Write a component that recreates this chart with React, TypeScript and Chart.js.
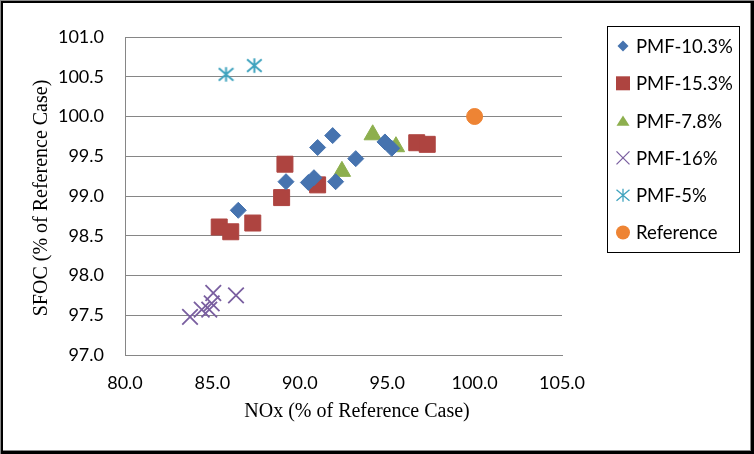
import React, { useEffect, useRef } from 'react';
import { Chart, registerables } from 'chart.js';

Chart.register(...registerables);

// ---- data ----
const seriesNames = ['PMF-10.3%', 'PMF-15.3%', 'PMF-7.8%', 'PMF-16%', 'PMF-5%', 'Reference'];

const pmf103X = [86.48, 89.21, 90.49, 90.81, 91.02, 91.88, 92.05, 93.2, 94.87, 95.26];
const pmf103Y = [98.82, 99.18, 99.17, 99.23, 99.61, 99.76, 99.18, 99.47, 99.68, 99.6];

const pmf153X = [85.39, 86.05, 87.31, 88.96, 89.15, 91.02, 96.69, 97.29];
const pmf153Y = [98.61, 98.55, 98.66, 98.98, 99.4, 99.14, 99.67, 99.65];

const pmf78X = [92.41, 94.17, 95.5];
const pmf78Y = [99.31, 99.77, 99.62];

const pmf16X = [83.72, 84.39, 84.82, 84.96, 85.05, 86.35];
const pmf16Y = [97.48, 97.57, 97.57, 97.65, 97.78, 97.75];

const pmf5X = [85.78, 87.4];
const pmf5Y = [100.53, 100.64];

const refX = [100];
const refY = [100];

const xMin = 80, xMax = 105, xStep = 5;
const yMin = 97, yMax = 101, yStep = 0.5;

const xTitle = 'NOx (% of Reference Case)';
const yTitle = 'SFOC (% of Reference Case)';

// ---- styles ----
const colors = ['#4673AF', '#AE4440', '#8DAF4E', '#7A5FA0', '#3FA3BE', '#EE8434'];
const kinds = ['diamond', 'square', 'triangle', 'x', 'star', 'circle'];

const toPts = (xs: number[], ys: number[]) => xs.map((x, i) => ({ x, y: ys[i] }));

function makeStar(color: string, size: number, lw: number) {
  const c = document.createElement('canvas');
  c.width = size;
  c.height = size;
  const g = c.getContext('2d')!;
  const h = size / 2;
  const a = h - 1.2;
  g.strokeStyle = color;
  g.lineWidth = lw;
  g.lineCap = 'butt';
  g.beginPath();
  g.moveTo(h - a, h - a * 0.85);
  g.lineTo(h + a, h + a * 0.85);
  g.moveTo(h + a, h - a * 0.85);
  g.lineTo(h - a, h + a * 0.85);
  g.moveTo(h, h - a);
  g.lineTo(h, h + a);
  g.stroke();
  return c;
}

function drawMarker(ctx: CanvasRenderingContext2D, kind: string, x: number, y: number, s: number, color: string) {
  ctx.save();
  ctx.fillStyle = color;
  ctx.strokeStyle = color;
  const h = s / 2;
  ctx.beginPath();
  if (kind === 'diamond') {
    ctx.moveTo(x, y - h); ctx.lineTo(x + h, y); ctx.lineTo(x, y + h); ctx.lineTo(x - h, y); ctx.closePath(); ctx.fill();
  } else if (kind === 'square') {
    ctx.rect(x - h, y - h, s, s); ctx.fill();
  } else if (kind === 'triangle') {
    const th = s * 0.8;
    ctx.moveTo(x, y - th / 2); ctx.lineTo(x + h, y + th / 2); ctx.lineTo(x - h, y + th / 2); ctx.closePath(); ctx.fill();
  } else if (kind === 'x') {
    ctx.lineWidth = 1.3;
    ctx.moveTo(x - h, y - h); ctx.lineTo(x + h, y + h); ctx.moveTo(x + h, y - h); ctx.lineTo(x - h, y + h); ctx.stroke();
  } else if (kind === 'star') {
    ctx.lineWidth = 1.3;
    ctx.moveTo(x - h, y - h * 0.85); ctx.lineTo(x + h, y + h * 0.85);
    ctx.moveTo(x + h, y - h * 0.85); ctx.lineTo(x - h, y + h * 0.85);
    ctx.moveTo(x, y - h); ctx.lineTo(x, y + h); ctx.stroke();
  } else {
    ctx.arc(x, y, h, 0, Math.PI * 2); ctx.fill();
  }
  ctx.restore();
}

const decorPlugin = {
  id: 'decor',
  afterDraw(chart: any) {
    const ctx: CanvasRenderingContext2D = chart.ctx;
    const W = chart.width, H = chart.height;
    const area = chart.chartArea;
    ctx.save();
    // axis titles
    ctx.fillStyle = '#000';
    ctx.font = '20px "Liberation Serif", "Times New Roman", serif';
    ctx.textAlign = 'center';
    ctx.textBaseline = 'alphabetic';
    ctx.fillText(xTitle, 357, 417);
    ctx.save();
    ctx.translate(47, (area.top + area.bottom) / 2 + 2);
    ctx.rotate(-Math.PI / 2);
    ctx.fillText(yTitle, 0, 0);
    ctx.restore();

    // legend
    const lx = 607, ly = 26, lw = 132, lh = 226;
    ctx.strokeStyle = '#000';
    ctx.lineWidth = 1;
    ctx.strokeRect(lx + 0.5, ly + 0.5, lw, lh);
    const sizes = [11, 14, 13, 13, 13, 14];
    ctx.font = '18.5px Lato, "Open Sans", sans-serif';
    ctx.textAlign = 'left';
    ctx.textBaseline = 'middle';
    seriesNames.forEach((name, i) => {
      const yy = 46 + i * 37.3;
      drawMarker(ctx, kinds[i], 623, yy, sizes[i], colors[i]);
      ctx.fillStyle = '#000';
      ctx.fillText(name, 636, yy + 1);
    });

    // outer frame
    ctx.fillStyle = '#8a8a8a';
    ctx.fillRect(0, 0, W, 1);
    ctx.fillRect(0, 0, 1, H);
    ctx.fillRect(750, 1, 1, 450);
    ctx.fillRect(1, 450, 750, 1);
    ctx.fillStyle = '#000';
    ctx.fillRect(1, 1, W - 2, 2);
    ctx.fillRect(1, 1, 2, H - 2);
    ctx.fillRect(751, 1, 3, H - 1);
    ctx.fillRect(1, 451, W - 1, 3);
    ctx.restore();
  },
};

export default function App() {
  const ref = useRef<HTMLCanvasElement>(null);
  useEffect(() => {
    if (!ref.current) return;
    const starImg = makeStar(colors[4], 17, 2);
    const chart = new Chart(ref.current, {
      type: 'scatter',
      data: {
        datasets: [
          { label: seriesNames[0], data: toPts(pmf103X, pmf103Y), pointStyle: 'rectRot', pointRadius: 8, borderWidth: 1, backgroundColor: colors[0], borderColor: colors[0] },
          { label: seriesNames[1], data: toPts(pmf153X, pmf153Y), pointStyle: 'rect', pointRadius: 11.3, borderWidth: 1, backgroundColor: colors[1], borderColor: colors[1] },
          { label: seriesNames[2], data: toPts(pmf78X, pmf78Y), pointStyle: 'triangle', pointRadius: 10, borderWidth: 1, backgroundColor: colors[2], borderColor: colors[2] },
          { label: seriesNames[3], data: toPts(pmf16X, pmf16Y), pointStyle: 'crossRot', pointRadius: 11, borderWidth: 1.8, backgroundColor: colors[3], borderColor: colors[3] },
          { label: seriesNames[4], data: toPts(pmf5X, pmf5Y), pointStyle: starImg as any, pointRadius: 8, borderWidth: 0, backgroundColor: colors[4], borderColor: colors[4] },
          { label: seriesNames[5], data: toPts(refX, refY), pointStyle: 'circle', pointRadius: 8, borderWidth: 1, backgroundColor: colors[5], borderColor: colors[5] },
        ] as any,
      },
      options: {
        responsive: false,
        animation: false,
        devicePixelRatio: 1,
        layout: { padding: { top: 37, right: 192, bottom: 0, left: 0 } },
        plugins: { legend: { display: false }, tooltip: { enabled: false } },
        scales: {
          x: {
            type: 'linear',
            min: xMin,
            max: xMax,
            afterFit: (s: any) => { s.height = 99; },
            ticks: {
              stepSize: xStep,
              padding: 17,
              color: '#000',
              font: { family: 'Lato', size: 18 },
              callback: (v: any) => Number(v).toFixed(1),
              maxRotation: 0,
            },
            grid: { display: false, drawTicks: false },
            border: { display: true, color: '#868686', width: 1 },
          },
          y: {
            type: 'linear',
            min: yMin,
            max: yMax,
            afterFit: (s: any) => { s.width = 125; },
            ticks: {
              stepSize: yStep,
              padding: 21,
              color: '#000',
              font: { family: 'Lato', size: 18 },
              callback: (v: any) => Number(v).toFixed(1),
            },
            grid: { display: true, drawTicks: false, color: '#868686', lineWidth: 1 },
            border: { display: true, color: '#868686', width: 1 },
          },
        },
      },
      plugins: [decorPlugin],
    });
    return () => chart.destroy();
  }, []);
  return (
    <div style={{ position: 'fixed', left: 0, top: 0, width: 754, height: 454, background: '#fff' }}>
      <canvas ref={ref} width={754} height={454} style={{ display: 'block' }} />
    </div>
  );
}
